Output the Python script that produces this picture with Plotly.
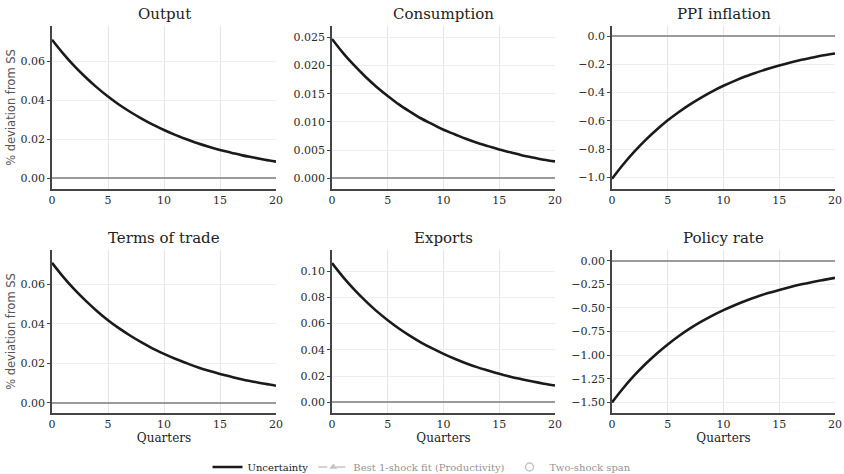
import plotly.graph_objects as go

# Impulse responses to an uncertainty shock, 0-20 quarters
quarters = list(range(21))

output = [0.0710, 0.0639, 0.0575, 0.0518, 0.0466, 0.0419, 0.0377, 0.0340, 0.0306, 0.0275, 0.0248,
          0.0223, 0.0201, 0.0180, 0.0162, 0.0146, 0.0132, 0.0118, 0.0107, 0.0096, 0.0086]
consumption = [0.0247, 0.0222, 0.0200, 0.0180, 0.0162, 0.0146, 0.0131, 0.0118, 0.0106, 0.0096, 0.0086,
               0.0078, 0.0070, 0.0063, 0.0057, 0.0051, 0.0046, 0.0041, 0.0037, 0.0033, 0.0030]
ppi_inflation = [-1.010, -0.909, -0.818, -0.736, -0.663, -0.596, -0.537, -0.483, -0.435, -0.391, -0.352,
                 -0.317, -0.285, -0.257, -0.231, -0.208, -0.187, -0.168, -0.152, -0.136, -0.123]
terms_of_trade = [0.0710, 0.0639, 0.0575, 0.0518, 0.0466, 0.0419, 0.0377, 0.0340, 0.0306, 0.0275, 0.0248,
                  0.0223, 0.0201, 0.0180, 0.0162, 0.0146, 0.0132, 0.0118, 0.0107, 0.0096, 0.0086]
exports = [0.1060, 0.0954, 0.0859, 0.0773, 0.0695, 0.0626, 0.0563, 0.0507, 0.0456, 0.0411, 0.0370,
           0.0333, 0.0299, 0.0269, 0.0243, 0.0218, 0.0196, 0.0177, 0.0159, 0.0143, 0.0129]
policy_rate = [-1.500, -1.350, -1.215, -1.094, -0.984, -0.886, -0.797, -0.717, -0.646, -0.581, -0.523,
               -0.471, -0.424, -0.381, -0.343, -0.309, -0.278, -0.250, -0.225, -0.203, -0.182]

# comparison series: toggled off by default, only listed in the legend
best_single_shock = [None] * len(quarters)
two_shock_span = [None] * len(quarters)

panel_titles = ["Output", "Consumption", "PPI inflation", "Terms of trade", "Exports", "Policy rate"]
panel_series = [output, consumption, ppi_inflation, terms_of_trade, exports, policy_rate]
y_ranges = [[-0.0054, 0.0780], [-0.0019, 0.0270], [-1.082, 0.071],
            [-0.0052, 0.0775], [-0.0080, 0.1160], [-1.612, 0.113]]
y_ticks = [[0, 0.02, 0.04, 0.06], [0, 0.005, 0.01, 0.015, 0.02, 0.025],
           [-1.0, -0.8, -0.6, -0.4, -0.2, 0.0], [0, 0.02, 0.04, 0.06],
           [0, 0.02, 0.04, 0.06, 0.08, 0.10], [-1.5, -1.25, -1.0, -0.75, -0.5, -0.25, 0.0]]
y_formats = [".2f", ".3f", ".1f", ".2f", ".2f", ".2f"]

W, H = 844, 474
col_px = [(52, 276), (332, 555), (612, 835)]
row_px = [(26, 189), (250, 413)]

SERIF = "DejaVu Serif"
SANS = "DejaVu Sans"
fig = go.Figure()
layout = dict()
annotations = []

for i, (title, ys) in enumerate(zip(panel_titles, panel_series)):
    r, c = divmod(i, 3)
    n = i + 1
    xa = "xaxis" if n == 1 else f"xaxis{n}"
    ya = "yaxis" if n == 1 else f"yaxis{n}"
    xref = "x" if n == 1 else f"x{n}"
    yref = "y" if n == 1 else f"y{n}"
    x0, x1 = col_px[c]
    top, bot = row_px[r]
    fig.add_trace(go.Scatter(
        x=quarters, y=ys, mode="lines", name="Uncertainty",
        line=dict(color="#1a1a1a", width=2.6, shape="spline", smoothing=1.0),
        xaxis=xref, yaxis=yref, showlegend=(i == 0), legendgroup="unc",
    ))
    layout[xa] = dict(
        domain=[x0 / W, x1 / W], anchor=yref, range=[0, 20], automargin=False,
        tickvals=[0, 5, 10, 15, 20], showgrid=True, gridcolor="#e4e4ee", gridwidth=1,
        showline=True, linecolor="#444444", linewidth=1.6, ticks="", zeroline=False,
        tickfont=dict(family=SERIF, size=11, color="#2a2a2a"),
        title=dict(text="Quarters" if r == 1 else "", font=dict(family=SERIF, size=12, color="#222222"),
                   standoff=1),
    )
    layout[ya] = dict(
        domain=[1 - bot / H, 1 - top / H], anchor=xref, range=y_ranges[i], automargin=False,
        tickvals=y_ticks[i], tickformat=y_formats[i], showgrid=True, gridcolor="#ececf2",
        gridwidth=1, showline=True, linecolor="#444444", linewidth=1.6, ticks="outside",
        ticklen=3, tickcolor="#444444", zeroline=True, zerolinecolor="#9a9a9a", zerolinewidth=1.5,
        tickfont=dict(family=SERIF, size=11, color="#2a2a2a"),
        title=dict(text="% deviation from SS" if c == 0 else "",
                   font=dict(family=SANS, size=11.5, color="#555555"), standoff=2),
    )
    annotations.append(dict(
        text=title, x=(x0 + x1) / 2 / W, y=1 - (top - 12) / H, xref="paper", yref="paper",
        xanchor="center", yanchor="middle", showarrow=False,
        font=dict(family=SERIF, size=15, color="#222222"),
    ))

fig.add_trace(go.Scatter(
    x=quarters, y=best_single_shock, mode="lines+markers", name="Best 1-shock fit (Productivity)",
    line=dict(color="#8a8a8a", width=1.5, dash="dash"),
    marker=dict(symbol="triangle-up", size=7, color="#8a8a8a"),
    visible="legendonly",
))
fig.add_trace(go.Scatter(
    x=quarters, y=two_shock_span, mode="markers", name="Two-shock span",
    marker=dict(symbol="circle-open", size=8, color="#8a8a8a", line=dict(width=1.5)),
    visible="legendonly",
))

fig.update_layout(
    **layout,
    annotations=annotations,
    width=W, height=H,
    margin=dict(l=0, r=0, t=0, b=0, autoexpand=False),
    paper_bgcolor="white", plot_bgcolor="white",
    font=dict(family=SERIF, size=11, color="#222222"),
    legend=dict(orientation="h", xref="container", yref="container",
                x=0.5, xanchor="center", y=1 - 467 / H, yanchor="middle",
                font=dict(family=SERIF, size=10, color="#222222"), itemwidth=30),
)

fig.write_html("out.html")
